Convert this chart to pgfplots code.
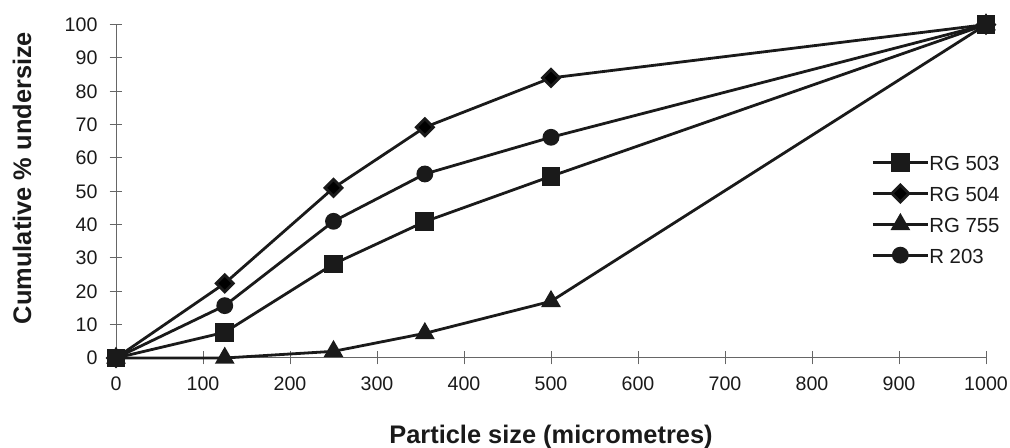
\documentclass[border=0pt]{standalone}
\usepackage{fontspec}
\setmainfont{Liberation Sans}
\usepackage{pgfplots}
\pgfplotsset{compat=1.18}
\definecolor{ink}{HTML}{1A1A1A}
\begin{document}
\begin{tikzpicture}
\useasboundingbox (0,0) rectangle (505pt,224pt);
\begin{axis}[
  at={(58pt,45pt)}, anchor=south west,
  scale only axis, width=435pt, height=166.7pt,
  xmin=0, xmax=1000, ymin=0, ymax=100,
  axis x line=bottom, axis y line=left,
  axis line style={-, draw=black!60, line width=0.5pt},
  xtick={0,100,...,1000}, ytick={0,10,...,100},
  tick align=center, major tick length=6.5pt,
  tick style={draw=black!60, line width=0.5pt},
  clip=false,
  /pgf/number format/assume math mode=true,
  /pgf/number format/1000 sep={},
  tick label style={font=\fontsize{9.8}{11}\selectfont, text=ink},
  yticklabel style={xshift=-2.5pt},
  xticklabel style={yshift=-2.5pt},
  xlabel={Particle size (micrometres)},
  ylabel={Cumulative \% undersize},
  label style={font=\bfseries\fontsize{12.7}{15}\selectfont, text=ink},
  xlabel style={at={(axis description cs:0.5,-0.237)}, anchor=center},
  ylabel style={at={(axis description cs:-0.108,0.54)}, anchor=center},
  every axis plot/.append style={line width=1.4pt, draw=ink, mark options={fill=ink, draw=ink}},
  legend style={draw=none, fill=none, at={(axis description cs:0.861,0.63)}, anchor=north west,
    font=\fontsize{10.2}{12}\selectfont, text=ink, row sep=5pt, column sep=0pt,
    nodes={inner xsep=0pt, inner ysep=1.2pt, text height=8pt, text depth=0pt}},
  legend cell align=left,
  legend image code/.code={\draw[mark repeat=2, mark phase=2] plot coordinates {(0pt,0pt) (13.75pt,0pt) (27.5pt,0pt)};},
]
\addplot[mark=square*, mark size=4pt] coordinates {(0,0) (125,7.7) (250,28.2) (355,40.9) (500,54.5) (1000,100)};
\addlegendentry{RG 503}
\addplot[mark=square*, mark size=3pt, mark options={rotate=45}] coordinates {(0,0) (125,22.4) (250,51) (355,69.2) (500,84) (1000,100)};
\addlegendentry{RG 504}
\addplot[mark=triangle*, mark size=4.3pt] coordinates {(0,0) (125,0) (250,2) (355,7.4) (500,17) (1000,100)};
\addlegendentry{RG 755}
\addplot[mark=*, mark size=3.5pt] coordinates {(0,0) (125,15.7) (250,41) (355,55.2) (500,66.2) (1000,100)};
\addlegendentry{R 203}
\addplot[only marks, mark=square*, mark size=4pt, forget plot] coordinates {(0,0) (1000,100)};
\end{axis}
\end{tikzpicture}
\end{document}
